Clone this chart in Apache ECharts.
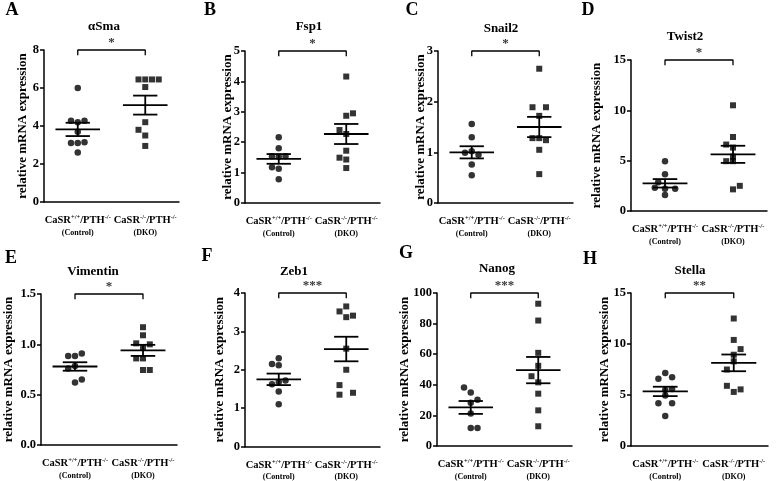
<!DOCTYPE html>
<html>
<head>
<meta charset="utf-8">
<script src="https://cdn.jsdelivr.net/npm/echarts@6.0.0/dist/echarts.min.js"></script>
<style>
html, body { margin: 0; padding: 0; background: #fff; }
#chart { width: 778px; height: 481px; }
</style>
</head>
<body>
<div id="chart"></div>
<script>
// panel data
var genes = ['αSma', 'Fsp1', 'Snail2', 'Twist2', 'Vimentin', 'Zeb1', 'Nanog', 'Stella'];
var letters = ['A', 'B', 'C', 'D', 'E', 'F', 'G', 'H'];
var yMax = [8, 5, 3, 15, 1.5, 4, 100, 15];
var yStep = [2, 1, 1, 5, 0.5, 1, 20, 5];
var yDecimals = [0, 0, 0, 0, 1, 0, 0, 0];
var stars = ['*', '*', '*', '*', '*', '***', '***', '**'];

var ctrlValues = [
    [6.0, 4.28, 4.2, 4.28, 3.7, 3.1, 3.1, 3.15, 2.6],
    [2.16, 1.80, 1.54, 1.52, 1.54, 1.18, 1.13, 0.78],
    [1.56, 1.30, 0.99, 1.02, 0.95, 0.76, 0.55],
    [4.95, 3.65, 2.85, 2.3, 2.2, 2.2, 1.6],
    [0.885, 0.885, 0.91, 0.785, 0.76, 0.62, 0.65],
    [2.3, 2.15, 2.12, 1.72, 1.68, 1.62, 1.43, 1.1],
    [38.2, 34.9, 30.2, 28.2, 21.3, 11.8, 11.8],
    [7.15, 6.6, 6.75, 5.6, 5.5, 4.95, 4.2, 4.2, 2.95]
];
var ctrlJitter = [
    [0, -0.1, 0, 0.1, 0, -0.1, 0, 0.1, 0],
    [0, 0, -0.1, 0, 0.1, -0.1, 0, 0],
    [0, 0, -0.1, 0, 0.1, 0, 0],
    [0, 0, -0.1, -0.15, 0, 0.15, 0],
    [-0.1, 0, 0.1, 0, -0.1, 0, 0.1],
    [0, -0.1, 0, 0.1, 0, -0.1, 0, 0],
    [-0.1, 0, 0.1, 0, 0, 0, 0.1],
    [0, -0.1, 0.1, 0.1, 0, 0, -0.1, 0.1, 0]
];
var dkoValues = [
    [6.45, 6.45, 6.45, 6.45, 6.05, 4.2, 3.8, 3.5, 2.95],
    [4.16, 2.95, 2.87, 2.40, 2.27, 1.72, 1.49, 1.43, 1.15],
    [2.65, 1.89, 1.89, 1.72, 1.28, 1.28, 1.24, 1.05, 0.57],
    [10.5, 7.35, 6.6, 6.3, 5.4, 4.95, 4.95, 2.15, 2.5],
    [1.17, 1.09, 1.01, 1.0, 0.97, 0.86, 0.86, 0.745, 0.745],
    [3.65, 3.52, 3.37, 3.41, 2.55, 2.0, 1.6, 1.35, 1.4],
    [93, 82, 60.9, 52.4, 45.6, 41.6, 34.2, 23.3, 12.9],
    [12.5, 10.4, 9.5, 8.95, 8.3, 7.5, 5.9, 5.55, 5.3]
];
var dkoJitter = [
    [-0.1, 0, 0.1, 0.2, 0, 0, -0.1, 0, 0],
    [0, 0.1, 0, -0.1, 0, 0, -0.1, 0, 0],
    [0, -0.1, 0.1, 0, -0.1, 0, 0.1, 0, 0],
    [0, 0, -0.1, 0, 0, -0.1, 0, 0, 0.1],
    [0, 0, -0.1, 0.1, 0, -0.1, 0, 0, 0.1],
    [0, -0.1, 0, 0.1, 0, 0, -0.1, -0.1, 0.1],
    [0, 0, 0, 0, -0.1, 0, 0, 0, 0],
    [0, 0, 0.1, 0, 0, -0.1, -0.1, 0.1, 0]
];
var ctrlMean = [3.82, 1.45, 1.0, 2.75, 0.78, 1.75, 25.2, 5.35];
var ctrlSem = [0.35, 0.16, 0.12, 0.42, 0.042, 0.15, 4.2, 0.46];
var dkoMean = [5.1, 2.27, 1.5, 5.63, 0.94, 2.54, 49.6, 8.15];
var dkoSem = [0.5, 0.33, 0.2, 0.85, 0.055, 0.32, 8.6, 0.82];

// where each panel sits on the page
var layout = [
    { left: 44, top: 50, width: 135, height: 152, nameGap: 15, titleX: 104, titleY: 27, letterX: 12, letterY: 10 },
    { left: 245, top: 51, width: 135, height: 152, nameGap: 11, titleX: 309, titleY: 27, letterX: 210, letterY: 10 },
    { left: 438, top: 51, width: 135, height: 152, nameGap: 11, titleX: 501, titleY: 29, letterX: 412, letterY: 10 },
    { left: 631, top: 60, width: 136, height: 151, nameGap: 28, titleX: 685, titleY: 37, letterX: 588, letterY: 10 },
    { left: 41, top: 294, width: 136, height: 151, nameGap: 26, titleX: 93, titleY: 272, letterX: 11, letterY: 258 },
    { left: 245, top: 293, width: 135, height: 154, nameGap: 19, titleX: 294, titleY: 272, letterX: 207, letterY: 256 },
    { left: 437, top: 293, width: 135, height: 153, nameGap: 26, titleX: 497, titleY: 269, letterX: 406, letterY: 253 },
    { left: 631, top: 293, width: 137, height: 153, nameGap: 20, titleX: 690, titleY: 271, letterX: 590, letterY: 259 }
];

var FONT = '"Liberation Serif", "Times New Roman", serif';

function renderMeanSem(params, api) {
    var x = api.value(0), m = api.value(1), s = api.value(2);
    var c = api.coord([x, m]);
    var up = api.coord([x, m + s]);
    var lo = api.coord([x, m - s]);
    var unit = api.size([1, 0])[0];
    var w1 = unit * 0.33, w2 = unit * 0.18;
    var st = { stroke: '#000', lineWidth: 1.8 };
    return {
        type: 'group',
        children: [
            { type: 'line', shape: { x1: c[0] - w1, y1: c[1], x2: c[0] + w1, y2: c[1] }, style: st },
            { type: 'line', shape: { x1: up[0] - w2, y1: up[1], x2: up[0] + w2, y2: up[1] }, style: st },
            { type: 'line', shape: { x1: lo[0] - w2, y1: lo[1], x2: lo[0] + w2, y2: lo[1] }, style: st },
            { type: 'line', shape: { x1: c[0], y1: up[1], x2: c[0], y2: lo[1] }, style: st }
        ]
    };
}

function groupLabel(v) {
    if (Math.abs(v - 0.5) < 1e-6) return '{a|CaSR}{s|+/+}{a|/PTH}{s|-/-}\n{b|(Control)}';
    if (Math.abs(v - 1.5) < 1e-6) return '{a|CaSR}{s|-/-}{a|/PTH}{s|-/-}\n{b|(DKO)}';
    return '';
}

var grids = [], xAxes = [], yAxes = [], series = [], graphics = [];

for (var i = 0; i < genes.length; i++) {
    var L = layout[i];
    grids.push({ left: L.left, top: L.top, width: L.width, height: L.height });

    xAxes.push({
        type: 'value', gridIndex: i, min: 0, max: 2, interval: 0.5,
        axisLine: { show: true, onZero: false, lineStyle: { color: '#000', width: 1.5 } },
        axisTick: { show: false },
        splitLine: { show: false },
        axisLabel: {
            margin: 12,
            formatter: groupLabel,
            rich: {
                a: { fontFamily: FONT, fontWeight: 'bold', fontSize: 10.5, color: '#000', lineHeight: 13 },
                s: { fontFamily: FONT, fontWeight: 'bold', fontSize: 6.5, color: '#000', verticalAlign: 'top' },
                b: { fontFamily: FONT, fontWeight: 'bold', fontSize: 8, color: '#000', lineHeight: 11 }
            }
        }
    });

    (function (dec) {
        yAxes.push({
            type: 'value', gridIndex: i, min: 0, max: yMax[i], interval: yStep[i],
            name: 'relative mRNA expression', nameLocation: 'middle', nameGap: L.nameGap,
            nameMoveOverlap: false,
            nameTextStyle: { fontFamily: FONT, fontWeight: 'bold', fontSize: 13, color: '#000' },
            axisLine: { show: true, onZero: false, lineStyle: { color: '#000', width: 1.5 } },
            axisTick: { show: true, length: 4, lineStyle: { color: '#000', width: 1.5 } },
            splitLine: { show: false },
            axisLabel: {
                margin: 5, color: '#000', fontFamily: FONT, fontWeight: 'bold', fontSize: 12.5,
                formatter: function (v) { return v.toFixed(dec); }
            }
        });
    })(yDecimals[i]);

    var ctrlData = [], dkoData = [];
    for (var k = 0; k < ctrlValues[i].length; k++) {
        ctrlData.push([0.5 + ctrlJitter[i][k], ctrlValues[i][k]]);
    }
    for (var k2 = 0; k2 < dkoValues[i].length; k2++) {
        dkoData.push([1.5 + dkoJitter[i][k2], dkoValues[i][k2]]);
    }

    series.push({
        type: 'scatter', xAxisIndex: i, yAxisIndex: i, data: ctrlData,
        symbol: 'circle', symbolSize: 6.5, itemStyle: { color: '#000' }, silent: true
    });
    series.push({
        type: 'scatter', xAxisIndex: i, yAxisIndex: i, data: dkoData,
        symbol: 'rect', symbolSize: 6, itemStyle: { color: '#000' }, silent: true
    });
    series.push({
        type: 'custom', xAxisIndex: i, yAxisIndex: i, renderItem: renderMeanSem,
        data: [[0.5, ctrlMean[i], ctrlSem[i]], [1.5, dkoMean[i], dkoSem[i]]],
        silent: true, z: 3
    });
    // significance bracket between the two groups, at the top of the axis
    series.push({
        type: 'line', xAxisIndex: i, yAxisIndex: i, clip: false, symbol: 'none', silent: true,
        lineStyle: { color: '#000', width: 1.3 },
        data: [[0.5, yMax[i] * 0.965], [0.5, yMax[i]], [1.5, yMax[i]], [1.5, yMax[i] * 0.965]]
    });
    series.push({
        type: 'scatter', xAxisIndex: i, yAxisIndex: i, clip: false, silent: true,
        data: [[1, yMax[i]]], symbolSize: 1, itemStyle: { color: 'rgba(0,0,0,0)' },
        label: {
            show: true, position: 'top', distance: 0, formatter: stars[i],
            fontFamily: FONT, fontWeight: 'bold', fontSize: 13, color: '#000'
        }
    });

    graphics.push({
        type: 'text', x: L.titleX, y: L.titleY,
        style: { text: genes[i], fill: '#000', font: 'bold 13px ' + FONT, align: 'center', verticalAlign: 'middle' }
    });
    graphics.push({
        type: 'text', x: L.letterX, y: L.letterY,
        style: { text: letters[i], fill: '#000', font: 'bold 18px ' + FONT, align: 'center', verticalAlign: 'middle' }
    });
}

var myChart = echarts.init(document.getElementById('chart'));
var option = {
    backgroundColor: '#fff',
    animation: false,
    grid: grids,
    xAxis: xAxes,
    yAxis: yAxes,
    series: series,
    graphic: graphics
};
myChart.setOption(option, true);
</script>
</body>
</html>
